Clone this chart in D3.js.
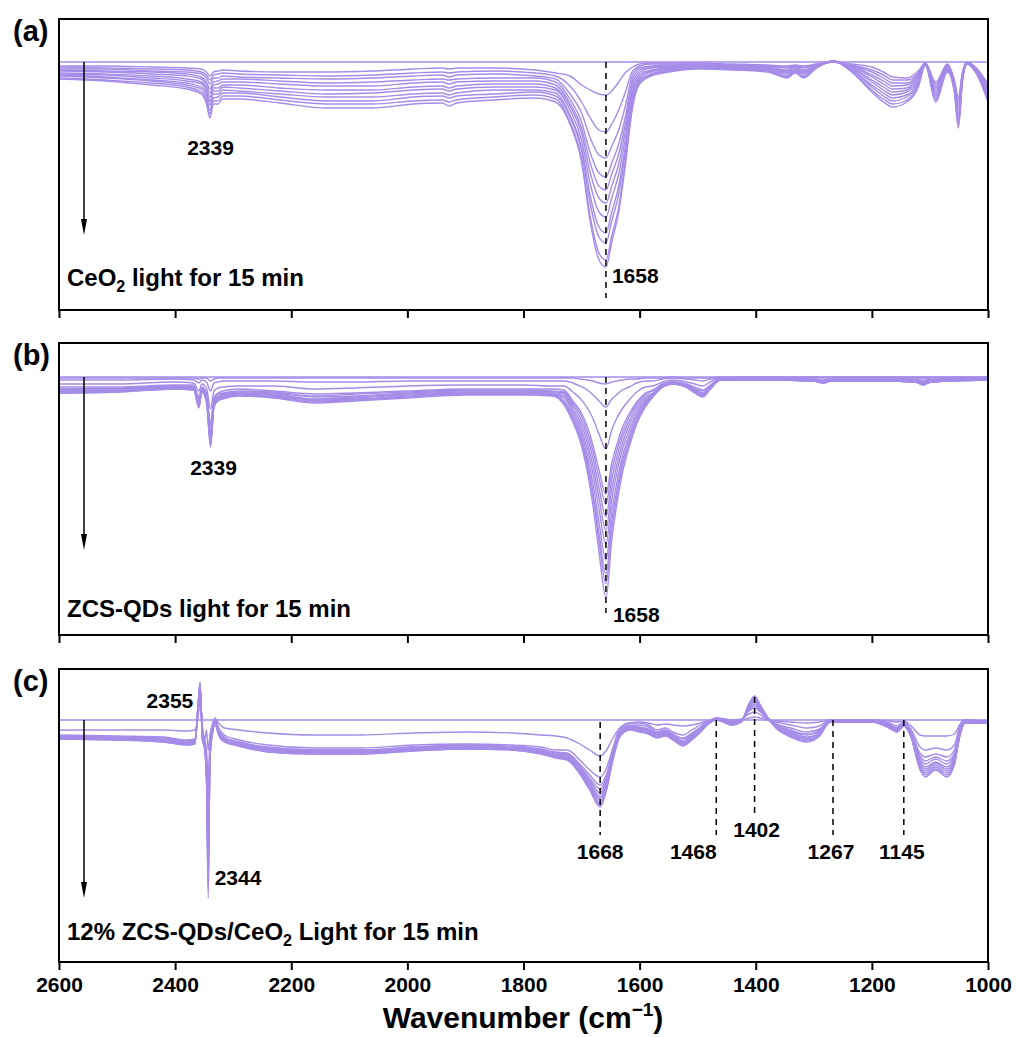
<!DOCTYPE html>
<html>
<head>
<meta charset="utf-8">
<script src="https://cdn.jsdelivr.net/npm/d3@7"></script>
<style>
  body { margin: 0; background: #fff; }
  svg text { font-family: "Liberation Sans", Arial, sans-serif; font-weight: bold; fill: #000; }
</style>
</head>
<body>
<svg id="chart" width="1028" height="1037"></svg>
<script>
// Shared wavenumber axis
const xTickValues = [2600, 2400, 2200, 2000, 1800, 1600, 1400, 1200, 1000];

// (a) CeO2: wavenumbers and depth of each spectrum below the reference spectrum (a.u.)
const wnA = [2600, 2520, 2440, 2380, 2355, 2346, 2340, 2334, 2326, 2318, 2290, 2220, 2140, 2060, 1990, 1940, 1928, 1915, 1850, 1780,
  1745, 1720, 1700, 1685, 1670, 1658, 1648, 1636, 1625, 1612, 1600, 1580, 1550, 1500, 1440, 1380, 1346, 1332, 1318, 1295,
  1267, 1235, 1200, 1180, 1164, 1140, 1120, 1108, 1090, 1070, 1058, 1051, 1044, 1036, 1020, 1000];
const depthA = [
  [4,5,7,8,9,11,12,13,14,16,17],
  [4,6,7,9,10,12,13,15,16,18,19],
  [5,7,9,10,12,14,16,18,19,21,23],
  [6,8,10,12,14,17,19,21,23,25,27],
  [7,10,12,15,17,20,22,25,27,30,32],
  [10,13,16,20,23,26,29,32,36,39,42],
  [14,18,22,27,31,35,39,43,48,52,56],
  [10,13,16,20,23,26,29,32,36,39,42],
  [9,12,16,19,22,26,29,32,35,39,42],
  [8,11,14,17,20,23,25,28,31,34,37],
  [9,12,15,17,20,23,26,29,31,34,37],
  [10,13,16,19,22,26,29,32,35,38,41],
  [10,14,17,21,24,28,32,35,39,42,46],
  [9,13,16,20,24,28,31,35,39,42,46],
  [7,11,14,18,21,25,28,32,35,39,42],
  [6,10,13,17,20,24,27,31,34,38,41],
  [7,11,15,18,22,26,29,33,36,40,44],
  [6,10,13,17,20,24,27,31,34,38,41],
  [6,9,12,16,19,22,25,28,32,35,38],
  [8,11,14,16,19,22,25,28,30,33,36],
  [11,14,17,20,23,26,28,31,34,37,40],
  [14,24,32,37,41,44,48,53,55,60,62],
  [23,40,51,60,66,71,78,85,89,97,100],
  [28,56,76,91,101,111,122,134,142,155,160],
  [32,68,93,111,124,136,150,165,175,191,198],
  [33,70,96,115,128,141,155,171,181,198,205],
  [29,62,84,101,112,124,136,150,159,174,180],
  [20,48,68,82,92,102,112,124,132,145,150],
  [11,31,45,56,63,70,78,86,92,101,105],
  [5,9,13,17,21,25,29,33,37,41,45],
  [2,4,6,8,10,12,14,16,18,20,22],
  [1,2,4,5,6,8,9,10,12,13,14],
  [1,2,3,4,5,6,6,7,8,9,10],
  [1,2,2,3,3,4,4,5,6,6,7],
  [2,3,3,4,4,5,5,6,6,7,8],
  [3,4,4,5,6,6,7,8,8,9,10],
  [4,5,6,8,9,10,11,12,14,15,16],
  [3,4,5,5,6,7,8,9,9,10,11],
  [4,5,6,8,9,10,11,12,14,15,16],
  [2,2,3,3,4,4,4,5,5,6,6],
  [0,0,0,0,0,-1,-1,-1,-1,-1,-1],
  [2,3,4,4,5,6,7,8,8,9,10],
  [5,8,10,13,15,18,20,23,25,28,30],
  [10,13,16,19,22,25,28,31,34,37,40],
  [15,18,21,24,27,30,33,36,39,42,45],
  [16,18,21,23,26,28,30,33,35,38,40],
  [9,11,12,14,15,17,19,20,22,23,25],
  [1,1,1,2,2,2,2,2,3,3,3],
  [20,22,24,26,28,30,32,34,36,38,40],
  [2,3,4,4,5,6,7,8,8,9,10],
  [18,19,20,22,23,24,25,26,28,29,30],
  [35,38,41,44,47,51,54,57,60,63,66],
  [10,11,12,13,14,15,16,17,18,19,20],
  [0,0,0,1,1,1,1,1,2,2,2],
  [6,7,7,8,8,9,9,10,11,11,12],
  [22,24,26,27,29,31,33,35,36,38,40]
];

// (b) ZCS-QDs
const wnB = [2600, 2500, 2400, 2368, 2359, 2354, 2346, 2339, 2333, 2326, 2318, 2290, 2230, 2160, 2090, 2000, 1900, 1800, 1750, 1730,
  1715, 1703, 1690, 1680, 1670, 1658, 1648, 1640, 1630, 1618, 1605, 1590, 1577, 1560, 1543, 1520, 1505, 1491, 1478, 1461,
  1380, 1300, 1284, 1270, 1180, 1125, 1112, 1098, 1000];
const depthB = [
  [1,3,7,10,12,12,13,14,14,15,16,16],
  [1,3,7,10,11,12,12,13,14,14,15,15],
  [1,2,5,8,9,9,10,10,11,11,12,12],
  [1,3,6,8,9,10,11,11,12,12,13,13],
  [2,6,14,20,22,24,26,27,28,29,30,31],
  [1,3,7,10,11,12,12,13,14,14,15,15],
  [1,5,11,16,18,20,21,22,23,24,24,25],
  [4,14,32,46,50,55,58,61,63,66,68,70],
  [2,6,14,20,22,23,25,26,27,28,29,30],
  [1,5,11,16,17,19,20,21,22,23,23,24],
  [1,4,10,14,16,17,18,19,20,21,21,22],
  [1,4,9,12,14,15,16,17,17,18,18,19],
  [1,4,9,14,15,16,17,18,19,20,20,21],
  [1,5,12,17,19,20,22,23,23,24,25,26],
  [1,5,11,16,17,19,20,21,22,23,23,24],
  [1,4,9,14,15,16,17,18,19,20,20,21],
  [1,4,8,12,13,14,15,16,16,17,17,18],
  [1,4,8,12,13,14,15,16,16,17,17,18],
  [1,4,9,12,14,15,16,17,17,18,18,19],
  [1,4,9,13,15,16,17,19,21,24,26,28],
  [1,6,15,24,26,28,31,34,37,40,42,45],
  [2,9,21,33,36,40,44,48,52,56,59,63],
  [3,13,31,50,55,60,66,72,79,85,89,95],
  [4,18,42,69,75,82,90,98,108,116,122,130],
  [6,24,57,93,101,111,121,132,145,156,164,175],
  [7,30,72,117,127,140,153,167,183,197,207,221],
  [5,22,53,86,94,103,113,123,135,145,153,163],
  [4,18,42,69,75,82,90,98,108,116,122,130],
  [3,13,32,51,56,61,67,73,80,86,91,97],
  [2,10,23,37,40,44,48,53,58,62,66,70],
  [2,6,15,25,27,30,33,36,39,42,44,47],
  [1,4,10,16,17,19,21,23,25,27,28,30],
  [1,4,9,13,14,16,17,17,18,19,19,20],
  [1,2,5,7,7,8,8,9,9,9,10,10],
  [0,1,3,5,5,5,6,6,6,7,7,7],
  [1,2,5,7,7,8,8,9,9,9,10,10],
  [1,3,7,10,12,12,13,14,14,15,16,16],
  [1,4,9,13,14,16,17,17,18,19,19,20],
  [1,2,5,8,9,9,10,10,11,11,12,12],
  [0,1,1,2,2,2,2,3,3,3,3,3],
  [0,1,1,2,2,2,2,3,3,3,3,3],
  [0,1,2,3,3,3,3,3,4,4,4,4],
  [0,1,3,4,4,5,5,5,5,6,6,6],
  [0,1,2,3,3,3,3,3,4,4,4,4],
  [0,1,2,3,3,3,3,3,4,4,4,4],
  [0,1,2,3,4,4,4,4,5,5,5,5],
  [0,2,4,5,6,6,7,7,7,8,8,8],
  [0,1,2,3,4,4,4,4,5,5,5,5],
  [0,1,1,2,2,2,2,3,3,3,3,3]
];

// (c) 12% ZCS-QDs/CeO2
const wnC = [2600, 2500, 2420, 2380, 2366, 2360, 2357, 2353, 2349, 2346, 2343, 2340, 2336, 2331, 2325, 2315, 2290, 2240, 2160, 2080,
  1990, 1900, 1820, 1770, 1745, 1725, 1703, 1686, 1668, 1657, 1646, 1634, 1617, 1600, 1585, 1570, 1555, 1543, 1525, 1510,
  1495, 1484, 1468, 1440, 1425, 1412, 1402, 1392, 1380, 1365, 1340, 1312, 1290, 1272, 1200, 1170, 1157, 1145, 1134, 1117,
  1108, 1090, 1071, 1058, 1048, 1040, 1000];
const depthC = [
  [10,15,16,17,17,17,18,18,18,19,19],
  [10,16,17,18,18,18,19,19,19,20,20],
  [10,17,18,19,20,20,21,21,21,22,22],
  [11,20,21,22,23,23,24,24,24,25,25],
  [10,19,20,21,22,22,23,23,23,24,24],
  [-5,-10,-13,-14,-15,-16,-17,-18,-19,-19,-20],
  [-20,-25,-28,-30,-32,-33,-34,-35,-36,-37,-38],
  [5,10,13,14,15,16,17,18,19,19,20],
  [20,20,23,24,25,26,27,28,29,29,30],
  [10,30,38,42,46,49,51,53,56,58,60],
  [30,60,90,107,121,133,143,152,161,170,178],
  [15,20,25,28,30,32,34,36,37,39,40],
  [5,5,8,9,10,11,12,13,14,14,15],
  [0,-2,0,1,2,2,3,3,4,4,5],
  [3,8,10,11,12,12,13,13,14,15,15],
  [8,15,17,18,19,19,20,20,21,22,22],
  [10,20,22,22,23,24,24,25,25,26,26],
  [13,25,27,28,29,29,30,30,31,32,32],
  [15,28,30,30,31,32,32,33,33,34,34],
  [15,28,30,30,31,32,32,33,33,34,34],
  [13,25,27,27,28,29,29,30,30,31,31],
  [12,24,25,26,27,27,28,28,28,29,29],
  [13,25,26,27,28,28,29,29,29,30,30],
  [15,27,29,30,31,31,32,32,33,34,34],
  [16,30,32,33,34,35,36,36,37,37,38],
  [18,30,33,34,35,36,37,38,39,39,40],
  [24,40,44,46,47,49,50,51,52,53,54],
  [30,50,55,58,60,62,64,66,67,69,70],
  [36,57,65,69,73,76,78,80,83,85,87],
  [30,48,54,57,59,62,63,65,67,69,70],
  [18,28,31,33,34,35,36,37,38,39,40],
  [8,8,10,12,13,14,14,15,16,16,17],
  [3,3,5,6,7,7,8,8,9,9,10],
  [2,3,5,7,8,9,9,10,11,11,12],
  [3,5,7,9,10,11,11,12,13,13,14],
  [5,10,12,13,14,15,16,16,17,17,18],
  [4,8,10,11,12,13,14,14,15,15,16],
  [5,12,14,15,16,17,18,18,19,19,20],
  [6,15,18,19,21,22,23,24,25,25,26],
  [5,10,13,14,15,16,17,18,19,19,20],
  [3,5,7,8,9,9,10,10,11,12,12],
  [1,2,3,3,4,4,4,4,5,5,5],
  [-1,-2,-2,-1,-1,-1,-1,0,0,0,0],
  [0,0,1,2,3,3,4,4,4,5,5],
  [0,-1,0,0,1,1,1,1,2,2,2],
  [-2,-6,-9,-10,-11,-12,-13,-14,-15,-15,-16],
  [-3,-8,-12,-14,-16,-18,-19,-20,-22,-23,-24],
  [-2,-5,-8,-9,-10,-11,-12,-13,-14,-14,-15],
  [0,0,-1,-1,-2,-2,-2,-2,-3,-3,-3],
  [1,2,4,4,5,6,6,7,7,8,8],
  [2,5,8,10,11,12,13,14,15,16,17],
  [3,8,12,14,15,17,18,19,20,21,22],
  [2,6,9,10,11,12,13,14,15,15,16],
  [0,0,1,1,1,1,1,2,2,2,2],
  [0,0,1,1,1,1,1,2,2,2,2],
  [1,3,4,5,6,6,7,7,7,8,8],
  [2,6,8,8,9,10,10,11,11,12,12],
  [1,2,3,4,4,4,5,5,5,6,6],
  [5,8,10,11,12,12,13,13,14,15,15],
  [15,27,33,36,39,41,43,45,47,48,50],
  [16,30,37,41,44,47,49,51,53,55,57],
  [16,28,34,37,39,42,43,45,47,49,50],
  [16,30,37,41,44,47,49,51,53,55,57],
  [14,25,30,33,35,37,39,41,42,44,45],
  [4,5,8,9,10,11,12,13,14,14,15],
  [0,0,1,1,2,2,2,2,3,3,3],
  [1,2,2,2,3,3,3,3,3,3,3]
];

// Band positions marked on each panel
const peaksA = [2339, 1658];
const peaksB = [2339, 1658];
const peaksC = [2355, 2344, 1668, 1468, 1402, 1267, 1145];

const lineColor = "#a58ce8";
const svg = d3.select("#chart");
const x = d3.scaleLinear().domain([2600, 1000]).range([59, 988]);

const panels = [
  { id: "a", letter: "(a)", wn: wnA, depth: depthA, top: 19, bottom: 310, domain: [-43, 248], arrowTo: 173 },
  { id: "b", letter: "(b)", wn: wnB, depth: depthB, top: 343, bottom: 635, domain: [-34, 258], arrowTo: 173 },
  { id: "c", letter: "(c)", wn: wnC, depth: depthC, top: 669, bottom: 962, domain: [-51, 242], arrowTo: 178 }
];

const defs = svg.append("defs");

panels.forEach((p, idx) => {
  const y = d3.scaleLinear().domain(p.domain).range([p.top, p.bottom]);
  p.y = y;
  const g = svg.append("g").attr("class", "panel-" + p.id);

  defs.append("clipPath").attr("id", "clip-" + p.id)
    .append("rect").attr("x", x(2600)).attr("y", p.top)
    .attr("width", x(1000) - x(2600)).attr("height", p.bottom - p.top);

  // spectra: reference (flat) plus each recorded spectrum
  const series = d3.transpose(p.depth);
  const flat = p.wn.map(() => 0);
  const all = [flat].concat(series);
  const line = d3.line()
    .x((d, i) => x(p.wn[i]))
    .y(d => y(d))
    .curve(d3.curveMonotoneX);

  g.append("g").attr("clip-path", "url(#clip-" + p.id + ")")
    .selectAll("path").data(all).join("path")
    .attr("d", line)
    .attr("fill", "none")
    .attr("stroke", lineColor)
    .attr("stroke-width", 1.4)
    .attr("stroke-linejoin", "round");

  // bottom axis ticks
  const axis = d3.axisBottom(x).tickValues(xTickValues).tickSize(8).tickSizeOuter(0)
    .tickFormat(idx === 2 ? d3.format("d") : () => "");
  const ax = g.append("g").attr("transform", `translate(0,${p.bottom})`).call(axis);
  ax.select(".domain").remove();
  ax.selectAll(".tick line").attr("stroke", "#000").attr("stroke-width", 2);
  ax.selectAll(".tick text").attr("y", 15).attr("font-size", 21)
    .attr("font-family", "'Liberation Sans', Arial, sans-serif").attr("font-weight", "bold").attr("fill", "#000");

  // frame
  g.append("rect").attr("x", x(2600)).attr("y", p.top)
    .attr("width", x(1000) - x(2600)).attr("height", p.bottom - p.top)
    .attr("fill", "none").attr("stroke", "#000").attr("stroke-width", 2);

  // time arrow
  const ax0 = 84, ay0 = y(0), ay1 = y(p.arrowTo);
  g.append("line").attr("x1", ax0).attr("x2", ax0).attr("y1", ay0).attr("y2", ay1 - 10)
    .attr("stroke", "#000").attr("stroke-width", 1.5);
  g.append("path")
    .attr("d", `M${ax0 - 3},${ay1 - 16}L${ax0 + 3},${ay1 - 16}L${ax0},${ay1}Z`)
    .attr("fill", "#000");

  // panel letter
  svg.append("text").attr("x", 13).attr("y", p.top + 22).attr("font-size", 29).text(p.letter);
});

function dashed(p, wn, d0, d1) {
  svg.append("line").attr("x1", x(wn)).attr("x2", x(wn))
    .attr("y1", p.y(d0)).attr("y2", p.y(d1))
    .attr("stroke", "#000").attr("stroke-width", 1.5).attr("stroke-dasharray", "6,5");
}
function label(p, txt, px, depth, anchor) {
  svg.append("text").attr("x", px).attr("y", p.y(depth))
    .attr("font-size", 21).attr("text-anchor", anchor || "middle").text(txt);
}

const [pa, pb, pc] = panels;

// (a)
dashed(pa, peaksA[1], 0, 236);
label(pa, String(peaksA[0]), x(peaksA[0]), 93);
label(pa, String(peaksA[1]), x(peaksA[1]) + 6, 221, "start");
// (b)
dashed(pb, peaksB[1], 0, 236);
label(pb, String(peaksB[0]), x(peaksB[0]) + 3, 98);
label(pb, String(peaksB[1]), x(peaksB[1]) + 7, 245, "start");
// (c)
label(pc, String(peaksC[0]), x(peaksC[0]) - 8, -12, "end");
label(pc, String(peaksC[1]), x(peaksC[1]) + 7, 165, "start");
dashed(pc, 1668, 2, 115);
dashed(pc, 1468, 0, 115);
dashed(pc, 1402, -23, 93);
dashed(pc, 1267, 0, 115);
dashed(pc, 1145, 0, 115);
label(pc, "1668", x(1668), 139);
label(pc, "1468", x(1468) - 23, 139);
label(pc, "1402", x(1402) + 2, 117);
label(pc, "1267", x(1267) - 2, 139);
label(pc, "1145", x(1145) - 2, 139);

// sample captions; a part flagged true is set as a subscript
function caption(yPix, parts) {
  const t = svg.append("text").attr("x", 67).attr("y", yPix).attr("font-size", 24);
  let lowered = false;
  parts.forEach(([s, sub]) => {
    const span = t.append("tspan").text(s);
    if (sub) { span.attr("font-size", 16).attr("dy", 6); lowered = true; }
    else if (lowered) { span.attr("dy", -6); lowered = false; }
  });
}
caption(286, [["CeO"], ["2", true], [" light for 15 min"]]);
caption(617, [["ZCS-QDs light for 15 min"]]);
caption(940, [["12% ZCS-QDs/CeO"], ["2", true], [" Light for 15 min"]]);

// x-axis title
const title = svg.append("text").attr("x", 523).attr("y", 1028).attr("text-anchor", "middle").attr("font-size", 30);
title.append("tspan").text("Wavenumber (cm");
title.append("tspan").attr("font-size", 19).attr("dy", -12).text("−1");
title.append("tspan").attr("dy", 12).text(")");
</script>
</body>
</html>
